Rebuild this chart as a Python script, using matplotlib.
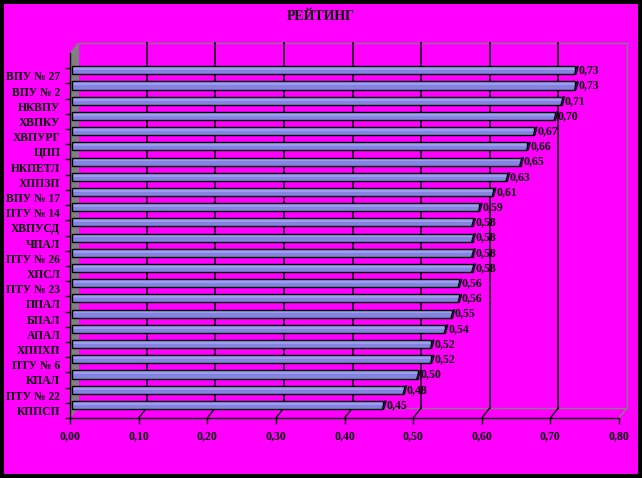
import matplotlib
matplotlib.use('Agg')
import matplotlib.pyplot as plt
from matplotlib.patches import Rectangle, Polygon
from matplotlib.transforms import ScaledTranslation, IdentityTransform

# данные рейтинга (сверху вниз)
labels = ['ВПУ № 27', 'ВПУ № 2', 'НКВПУ', 'ХВПКУ', 'ХВПУРГ', 'ЦПП', 'НКПЕТЛ',
          'ХППЗП', 'ВПУ № 17', 'ПТУ № 14', 'ХВПУСД', 'ЧПАЛ', 'ПТУ № 26', 'ХПСЛ',
          'ПТУ № 23', 'ППАЛ', 'БПАЛ', 'АПАЛ', 'ХППХП', 'ПТУ № 6', 'КПАЛ',
          'ПТУ № 22', 'КППСП']
values = [0.73, 0.73, 0.71, 0.70, 0.67, 0.66, 0.65, 0.63, 0.61, 0.59, 0.58,
          0.58, 0.58, 0.58, 0.56, 0.56, 0.55, 0.54, 0.52, 0.52, 0.50, 0.48, 0.45]
x_ticks = [0.0, 0.1, 0.2, 0.3, 0.4, 0.5, 0.6, 0.7, 0.8]
title = 'РЕЙТИНГ'

DPI = 100
MAGENTA = '#ff00ff'
WALL = '#808080'
BAR = '#8484e0'
BAR_HI = '#9c9cf0'
FONT = 'Liberation Serif'

fig = plt.figure(figsize=(6.42, 4.78), dpi=DPI, facecolor=MAGENTA)
fig.patches.append(Rectangle((0, 0), 1, 1, transform=fig.transFigure, fill=False,
                             edgecolor='black', linewidth=5.8))
fig.text(0.5, 1 - 17 / 478, title, ha='center', va='center', fontsize=10,
         fontweight='bold', family=FONT)

ax = fig.add_axes([70 / 642, 60 / 478, 549 / 642, 365 / 478])
ax.set_facecolor('none')
n = len(labels)
ypos = [n - 1 - i for i in range(n)]
ax.set_xlim(0, 0.8)
ax.set_ylim(-0.5, n + 0.5)

for s in ['top', 'right']:
    ax.spines[s].set_visible(False)
for s in ['left', 'bottom']:
    ax.spines[s].set_linewidth(1.0)
    ax.spines[s].set_zorder(5)


def shifted(dx, dy):
    return ax.transData + ScaledTranslation(dx / DPI, dy / DPI, fig.dpi_scale_trans)


def disp(x, y, dx=0, dy=0):
    p = ax.transData.transform((x, y))
    return (p[0] + dx, p[1] + dy)


DX, DY = 8, 10
y0, y1 = -0.5, n + 0.5
back = shifted(DX, DY)

# задняя стенка
ax.add_patch(Rectangle((0, y0), 0.8, y1 - y0, transform=back, fill=False,
                       edgecolor=WALL, linewidth=0.9, clip_on=False))
for xt in x_ticks[1:-1]:
    ax.plot([xt, xt], [y0, y1], transform=back, color='black', lw=1.1, clip_on=False)
# боковая стенка
side = [disp(0, y0), disp(0, y1), disp(0, y1, DX, DY), disp(0, y0, DX, DY)]
ax.add_patch(Polygon(side, closed=True, transform=IdentityTransform(),
                     facecolor=WALL, edgecolor=WALL, lw=0.5, clip_on=False, zorder=1))
# линии пола
for xt in x_ticks[1:]:
    c = WALL if xt == x_ticks[-1] else 'black'
    a = disp(xt, y0)
    b = disp(xt, y0, DX, DY)
    ax.plot([a[0], b[0]], [a[1], b[1]], transform=IdentityTransform(), color=c,
            lw=1.0, clip_on=False)

# столбики
h = 0.53
bar_tr = shifted(4.5, 5.5)
for y, v in zip(ypos, values):
    ax.add_patch(Rectangle((-0.003, y - h / 2), v + 0.003, h, transform=bar_tr,
                           facecolor=BAR, edgecolor='none', zorder=3, clip_on=False))
    ax.add_patch(Rectangle((-0.003, y + h * 0.02), v + 0.003, h * 0.4, transform=bar_tr,
                           facecolor=BAR_HI, edgecolor='none', zorder=3, clip_on=False))
    ax.add_patch(Rectangle((-0.003, y - h / 2), v + 0.003, h, transform=bar_tr,
                           fill=False, edgecolor='black', lw=1.0, zorder=4, clip_on=False))
    ex, yb = bar_tr.transform((v, y - h / 2))
    _, yt = bar_tr.transform((v, y + h / 2))
    cap = [(ex - 1, yb), (ex + 1.5, yt), (ex + 3, yt), (ex + 0.5, yb)]
    ax.add_patch(Polygon(cap, closed=True, transform=IdentityTransform(),
                         facecolor='#3c3c90', edgecolor='black', lw=0.7, zorder=4,
                         clip_on=False))
    ax.annotate(f'{v:.2f}'.replace('.', ','), xy=(v, y), xycoords=bar_tr,
                xytext=(3, 0), textcoords='offset pixels', ha='left', va='center',
                fontsize=8.5, fontweight='bold', family=FONT, zorder=6)

# оси
ax.set_xticks(x_ticks)
ax.set_xticklabels([f'{t:.2f}'.replace('.', ',') for t in x_ticks],
                   fontsize=8.5, fontweight='bold', family=FONT)
ax.tick_params(axis='x', direction='out', length=4, width=1.0, pad=5)
ax.set_yticks(ypos)
ax.set_yticklabels(labels, fontsize=8.3, fontweight='bold', family=FONT)
ax.set_yticks([k - 0.5 for k in range(n + 1)], minor=True)
ax.tick_params(axis='y', which='major', length=0, pad=7)
ax.tick_params(axis='y', which='minor', direction='out', length=3.6, width=1.0)

fig.savefig('out.png', dpi=DPI, facecolor=MAGENTA)
